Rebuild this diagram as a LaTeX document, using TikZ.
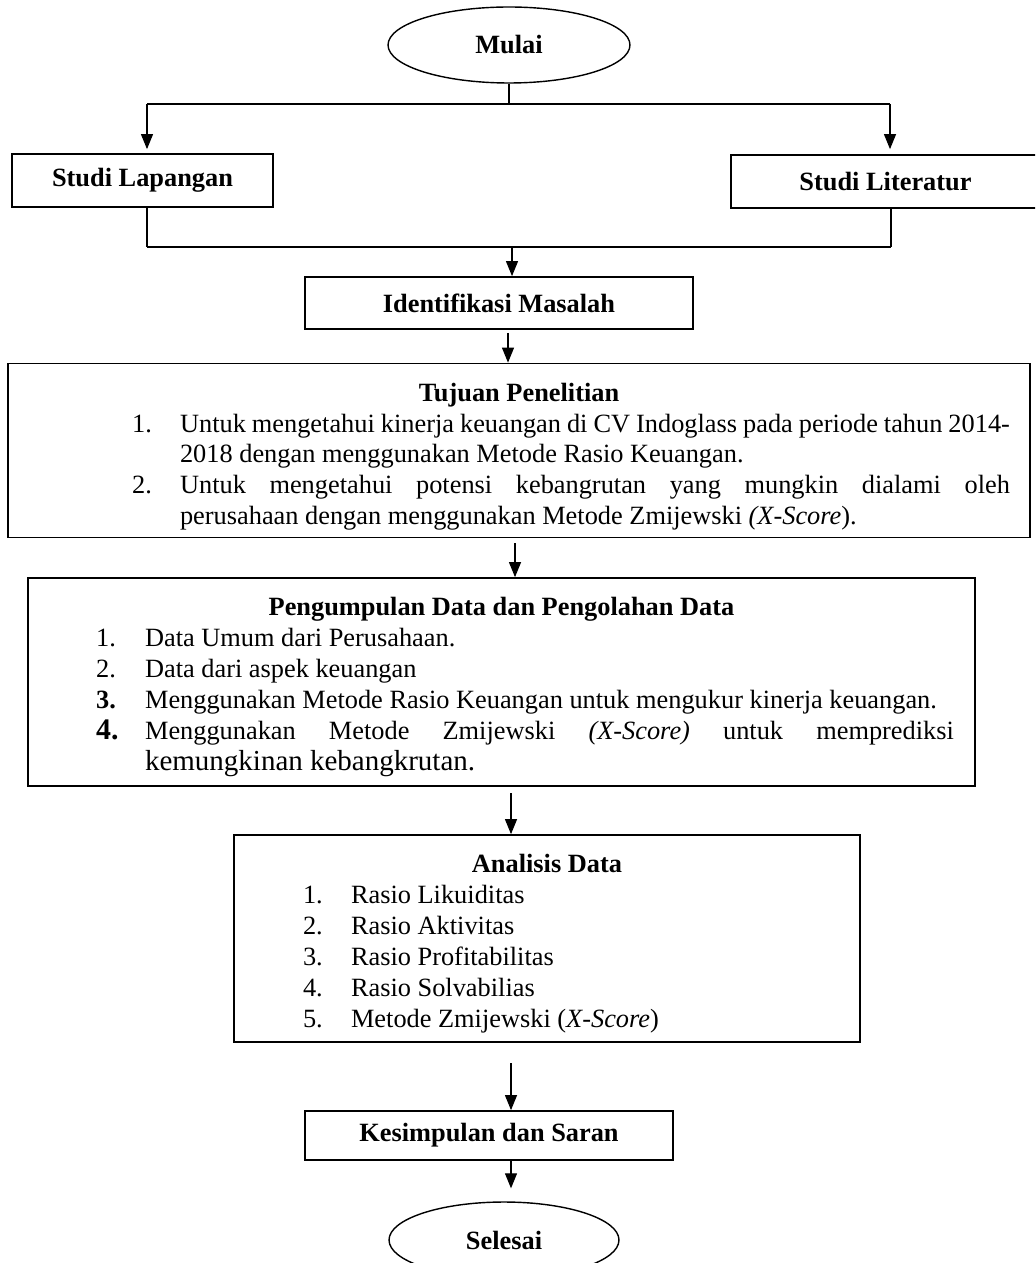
\documentclass[tikz,border=0pt]{standalone}
\usepackage{fontspec}
\setmainfont{Liberation Serif}
\usetikzlibrary{arrows.meta,shapes.geometric}

% numbered list inside the boxes: left margin, label width, right margin
\newenvironment{steplist}[3]{%
	\setlength\linewidth{\hsize}%
	\begin{list}{}{%
		\setlength\leftmargin{#1}%
		\setlength\labelwidth{#2}%
		\setlength\rightmargin{#3}%
		\setlength\labelsep{0pt}%
		\setlength\itemindent{0pt}%
		\setlength\itemsep{0pt}%
		\setlength\parsep{0pt}%
		\setlength\topsep{0pt}%
		\setlength\partopsep{0pt}%
		\renewcommand\makelabel[1]{##1\hfil}}}
	{\end{list}}

\begin{document}
\begin{tikzpicture}[
						x=0.02cm,
						y=-0.02cm,
						line cap=butt,
						line join=miter,
						every node/.style={font=\fontsize{15}{17.6}\selectfont},
						terminal/.style={ellipse, draw, line width=0.8pt, inner sep=0pt, font=\fontsize{15}{17.6}\selectfont\bfseries},
						box/.style={rectangle, draw, line width=1pt, inner sep=0pt, font=\fontsize{15}{17.6}\selectfont\bfseries},
						listbox/.style={rectangle, draw, line width=1pt, inner xsep=0pt, inner ysep=4pt, align=justify},
						line/.style={line width=0.6pt},
						bus/.style={line width=1pt},
						flow/.style={line width=0.6pt, -{Triangle[length=0.3cm, width=0.24cm]}}
						]
						
						\useasboundingbox (0,0) rectangle (1035,1263);
						\clip (0,0) rectangle (1035,1263);
						\tolerance=9999
						\hyphenpenalty=10000
						
						% Start and the two studies
						\node[terminal, minimum width=4.84cm, minimum height=1.52cm] (mulai) at (509,45) {Mulai};
						\node[box, minimum width=5.22cm, minimum height=1.06cm] (lapangan) at (142.5,180.5) {Studi Lapangan};
						\node[box, minimum width=6.18cm, minimum height=1.06cm] (literatur) at (885.5,181.5) {Studi Literatur};
						
						\coordinate (forkT) at (509,104);
						\coordinate (forkTL) at (147,104);
						\coordinate (forkTR) at (890,104);
						
						\draw[line] (mulai.south) -- (forkT);
						\draw[bus] (forkTL) -- (forkTR);
						\draw[flow] (forkTL) -- ([yshift=0.08cm]forkTL |- lapangan.north);
						\draw[flow] (forkTR) -- ([yshift=0.1cm]forkTR |- literatur.north);
						
						% Problem
						\node[box, minimum width=7.76cm, minimum height=1.04cm] (identifikasi) at (499,303) {Identifikasi Masalah};
						
						\coordinate (joinL) at (147,247);
						\coordinate (joinR) at (891,247);
						\coordinate (joinM) at (512,247);
						
						\draw[line] (lapangan.south -| joinL) -- (joinL);
						\draw[line] (literatur.south -| joinR) -- (joinR);
						\draw[bus] (joinL) -- (joinR);
						\draw[flow] (joinM) -- (joinM |- identifikasi.north);
						
						% Objectives
						\node[listbox, text width=20.44cm, minimum height=3.46cm] (tujuan) at (519,450.5) {%
							{\centering\bfseries\rule{0pt}{17.4pt}Tujuan Penelitian\par}
							\begin{steplist}{3.44cm}{0.96cm}{0.4cm}
								\item[1.] Untuk mengetahui kinerja keuangan di CV Indoglass pada periode tahun 2014-\linebreak 2018 dengan menggunakan Metode Rasio Keuangan.
								\item[2.] Untuk mengetahui potensi kebangrutan yang mungkin dialami oleh\linebreak perusahaan dengan menggunakan Metode Zmijewski \textit{(X-Score}).
							\end{steplist}};
						
						\coordinate (a1) at (508,333);
						\draw[flow] (a1) -- (a1 |- tujuan.north);
						
						% Data
						\node[listbox, text width=18.94cm, minimum height=4.16cm] (pengumpulan) at (501.5,682) {%
							{\centering\bfseries\rule{0pt}{16.4pt}Pengumpulan Data dan Pengolahan Data\par}
							\begin{steplist}{2.34cm}{0.98cm}{0.42cm}
								\item[1.] Data Umum dari Perusahaan.
								\item[2.] Data dari aspek keuangan
								\item[\textbf{3.}] Menggunakan Metode Rasio Keuangan untuk mengukur kinerja keuangan.
								\item[{\fontsize{17}{17.6}\selectfont\bfseries 4.}] Menggunakan Metode Zmijewski \textit{(X-Score)} untuk memprediksi\linebreak {\fontsize{16.5}{18.4}\selectfont kemungkinan kebangkrutan.}
							\end{steplist}};
						
						\coordinate (a2) at (515,543);
						\draw[flow] (a2) -- (a2 |- pengumpulan.north);
						
						% Analysis
						\node[listbox, text width=12.52cm, minimum height=4.14cm] (analisis) at (547,938.5) {%
							{\centering\bfseries\rule{0pt}{16.4pt}Analisis Data\par}
							\begin{steplist}{2.34cm}{0.96cm}{0.4cm}
								\item[1.] Rasio Likuiditas
								\item[2.] Rasio Aktivitas
								\item[3.] Rasio Profitabilitas
								\item[4.] Rasio Solvabilias
								\item[5.] Metode Zmijewski (\textit{X-Score})
							\end{steplist}};
						
						\coordinate (a3) at (511,793);
						\draw[flow] (a3) -- (a3 |- analisis.north);
						
						% End
						\node[box, minimum width=7.36cm, minimum height=0.98cm] (kesimpulan) at (489,1135.5) {Kesimpulan dan Saran};
						\node[terminal, minimum width=4.6cm, minimum height=1.52cm] (selesai) at (504,1240) {Selesai};
						
						\coordinate (a4) at (511,1063);
						\coordinate (a5) at (511,1160);
						\draw[flow] (a4) -- (a4 |- kesimpulan.north);
						\draw[flow, shorten >=0.26cm] (a5) -- (a5 |- selesai.north);
						
					\end{tikzpicture}
\end{document}
